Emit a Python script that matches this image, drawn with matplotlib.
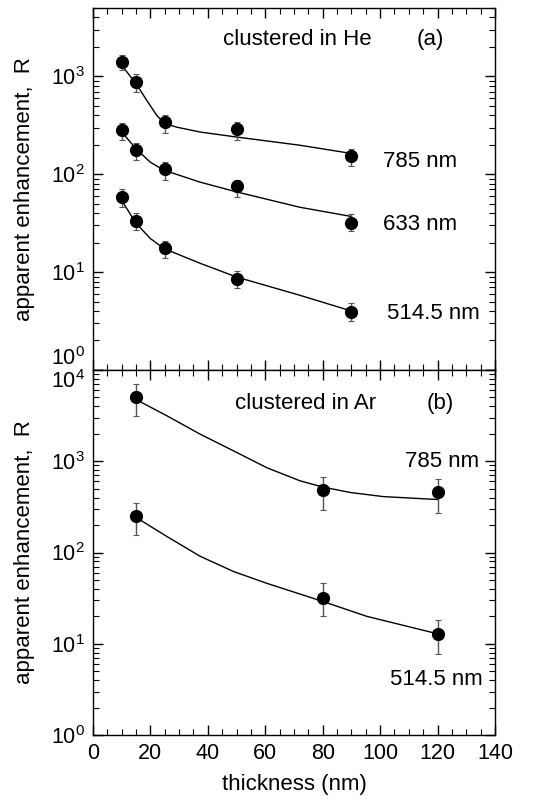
import numpy as np
import matplotlib.pyplot as plt
from matplotlib.ticker import MultipleLocator, LogLocator, NullFormatter

plt.rcParams['font.family'] = ['Liberation Sans', 'DejaVu Sans']
plt.rcParams['mathtext.fontset'] = 'custom'
plt.rcParams['mathtext.rm'] = 'Liberation Sans'
plt.rcParams['mathtext.default'] = 'regular'

# (a) clustered in He
he_x = [10, 15, 25, 50, 90]
he_785 = [1400, 880, 340, 290, 155]
he_785_hi = [1650, 1050, 400, 340, 182]
he_785_lo = [1150, 690, 266, 225, 120]
he_633 = [280, 178, 112, 75, 32]
he_633_hi = [335, 208, 132, 87, 39]
he_633_lo = [222, 141, 87, 59, 26]
he_514 = [58, 33, 17.5, 8.5, 3.9]
he_514_hi = [70, 40, 21, 10.3, 4.8]
he_514_lo = [46.5, 27, 14, 6.9, 3.2]

# fit curves
he_fit_x = [10, 15, 18.7, 22.2, 24.7, 29.1, 37.3, 50, 72, 90]
he_fit_785 = [1300, 840, 570, 400, 333, 303, 270, 240, 198, 163]
he_fit_633_x = [10, 15, 19.9, 24.7, 37.3, 50, 72, 90]
he_fit_633 = [270, 182, 133, 110, 83, 66, 46, 37]
he_fit_514_x = [10, 15, 20, 24.7, 37.3, 50, 72, 90]
he_fit_514 = [54, 31.5, 22, 17.4, 12.3, 8.9, 5.8, 4.0]

# (b) clustered in Ar
ar_x = [15, 80, 120]
ar_785 = [5000, 480, 460]
ar_785_hi = [7000, 680, 640]
ar_785_lo = [3100, 290, 270]
ar_514 = [250, 32, 12.8]
ar_514_hi = [350, 46, 18]
ar_514_lo = [156, 20, 7.8]

ar_fit_x = [15.2, 25.7, 37.3, 48.9, 60.5, 72.1, 80.2, 89.5, 101, 120.3]
ar_fit_785 = [4700, 3150, 1980, 1300, 850, 610, 520, 455, 410, 380]
ar_fit_514_x = [15.2, 25.7, 37.3, 48.9, 60.5, 80.2, 95.3, 120.3]
ar_fit_514 = [240, 150, 91, 62, 46, 29, 20, 12.8]

top_ticks = [1, 10, 100, 1000]
top_labels = ['$10^0$', '$10^1$', '$10^2$', '$10^3$']
bot_ticks = [1, 10, 100, 1000, 10000]
bot_labels = ['$10^0$', '$10^1$', '$10^2$', '$10^3$', '$10^4$']

fig = plt.figure(figsize=(5.36, 7.99), dpi=100)
ax1 = fig.add_axes([0.1735, 0.537, 0.75, 0.453])
ax2 = fig.add_axes([0.1735, 0.080, 0.75, 0.457], sharex=ax1)


def pts(ax, x, y, hi, lo):
    y = np.array(y)
    err = [y - np.array(lo), np.array(hi) - y]
    ax.errorbar(x, y, yerr=err, fmt='o', color='black', ms=8.5,
                ecolor='#555555', elinewidth=1.0, capsize=2.5, capthick=0.8)


ax1.plot(he_fit_x, he_fit_785, color='black', lw=1.0)
ax1.plot(he_fit_633_x, he_fit_633, color='black', lw=1.0)
ax1.plot(he_fit_514_x, he_fit_514, color='black', lw=1.0)
pts(ax1, he_x, he_785, he_785_hi, he_785_lo)
pts(ax1, he_x, he_633, he_633_hi, he_633_lo)
pts(ax1, he_x, he_514, he_514_hi, he_514_lo)

ax2.plot(ar_fit_x, ar_fit_785, color='black', lw=1.0)
ax2.plot(ar_fit_514_x, ar_fit_514, color='black', lw=1.0)
pts(ax2, ar_x, ar_785, ar_785_hi, ar_785_lo)
pts(ax2, ar_x, ar_514, ar_514_hi, ar_514_lo)

for ax in (ax1, ax2):
    ax.set_yscale('log')
    ax.set_xlim(0, 140)
    ax.xaxis.set_major_locator(MultipleLocator(20))
    ax.xaxis.set_minor_locator(MultipleLocator(5))
    ax.yaxis.set_minor_locator(LogLocator(base=10, subs=np.arange(2, 10), numticks=20))
    ax.yaxis.set_minor_formatter(NullFormatter())
    ax.tick_params(which='both', direction='in', top=True, right=True, labelsize=15.5)
    ax.tick_params(which='major', length=7, width=1, pad=6)
    ax.tick_params(which='minor', length=4, width=0.8)
    ax.set_ylabel('apparent enhancement,  R', fontsize=16)
    for s in ax.spines.values():
        s.set_linewidth(1.0)

ax1.set_ylim(1, 5000)
ax2.set_ylim(1, 10000)
ax1.set_yticks(top_ticks)
ax1.set_yticklabels(top_labels)
ax2.set_yticks(bot_ticks)
ax2.set_yticklabels(bot_labels)
ax1.get_yticklabels()[0].set_va('bottom')
ax2.get_yticklabels()[-1].set_va('top')
ax1.tick_params(labelbottom=False)
ax1.yaxis.set_label_coords(-0.145, 0.5)
ax2.yaxis.set_label_coords(-0.145, 0.5)
ax2.set_xlabel('thickness (nm)', fontsize=16, labelpad=7)

ax1.text(0.323, 0.912, 'clustered in He', transform=ax1.transAxes, fontsize=16, va='center')
ax1.text(0.806, 0.912, '(a)', transform=ax1.transAxes, fontsize=16, va='center')
ax1.text(0.721, 0.575, '785 nm', transform=ax1.transAxes, fontsize=16, va='center')
ax1.text(0.721, 0.403, '633 nm', transform=ax1.transAxes, fontsize=16, va='center')
ax1.text(0.731, 0.157, '514.5 nm', transform=ax1.transAxes, fontsize=16, va='center')

ax2.text(0.353, 0.907, 'clustered in Ar', transform=ax2.transAxes, fontsize=16, va='center')
ax2.text(0.831, 0.907, '(b)', transform=ax2.transAxes, fontsize=16, va='center')
ax2.text(0.776, 0.748, '785 nm', transform=ax2.transAxes, fontsize=16, va='center')
ax2.text(0.739, 0.153, '514.5 nm', transform=ax2.transAxes, fontsize=16, va='center')

fig.savefig('out.png', dpi=100)
